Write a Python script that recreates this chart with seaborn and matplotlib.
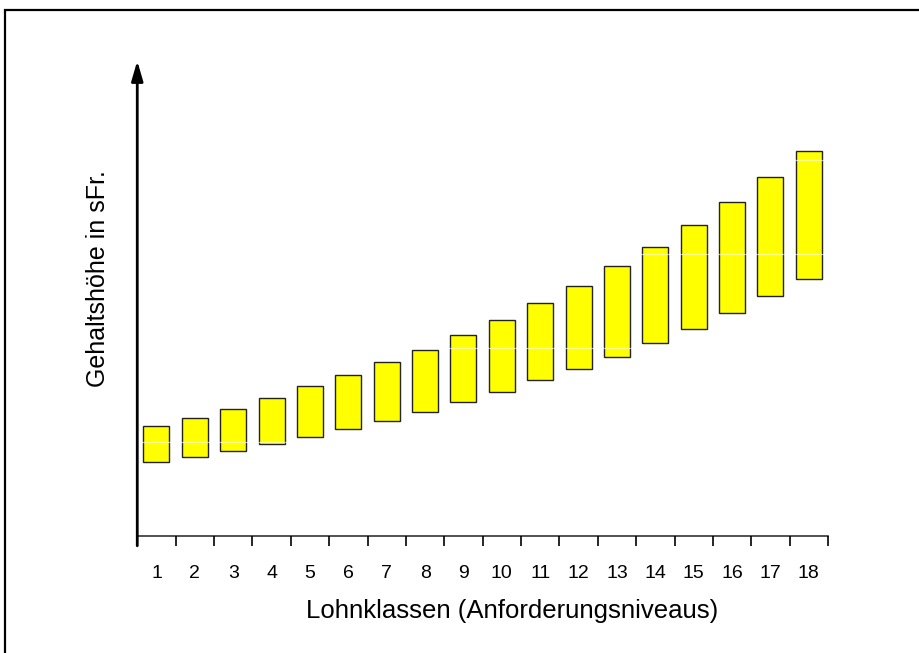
import numpy as np
import pandas as pd
import seaborn as sns
import matplotlib.pyplot as plt
from matplotlib.patches import Rectangle

# Lohnklassen und Gehaltsbänder (willkürliche Einheiten, Achse ohne Beschriftung)
klassen = [str(i) for i in range(1, 19)]
band_min = [781, 834, 901, 979, 1053, 1132, 1217, 1319, 1423, 1529,
            1657, 1774, 1901, 2047, 2202, 2370, 2547, 2731]
band_max = [1167, 1255, 1351, 1468, 1590, 1710, 1848, 1976, 2135, 2295,
            2476, 2657, 2866, 3075, 3309, 3554, 3817, 4093]
grid_levels = [1000, 2000, 3000, 4000]

df = pd.DataFrame({"Klasse": klassen, "min": band_min, "max": band_max})
df["span"] = df["max"] - df["min"]

sns.set_style("white")
plt.rcParams["font.family"] = ["Liberation Sans", "DejaVu Sans"]
plt.rcParams["text.color"] = "black"
plt.rcParams["axes.labelcolor"] = "black"
plt.rcParams["xtick.color"] = "black"

fig = plt.figure(figsize=(9.2, 6.53), dpi=100)
ax = fig.add_axes([0.1492, 0.1797, 0.9 - 0.1492, 0.911 - 0.1797])

sns.barplot(data=df, x="Klasse", y="span", order=klassen, bottom=df["min"].to_numpy(),
            color="#FFFF00", saturation=1, width=0.68, errorbar=None,
            edgecolor="#222222", linewidth=1.0, ax=ax)

ax.set_xlim(-0.5, len(klassen) - 0.5)
ax.set_ylim(0, 5082)

# feine weisse Hilfslinien
ax.set_yticks(grid_levels)
ax.set_yticklabels([])
ax.tick_params(axis="y", length=3, direction="in", color="#dddddd")
ax.yaxis.grid(True, color="white", linewidth=0.9, alpha=0.6)
ax.set_axisbelow(False)

# x-Achse: Beschriftung mittig, Striche an den Klassengrenzen
ax.set_xticks(np.arange(len(klassen)))
ax.set_xticklabels(klassen, fontsize=14)
ax.set_xticks(np.arange(len(klassen) + 1) - 0.5, minor=True)
ax.tick_params(axis="x", which="major", length=0, pad=21)
ax.tick_params(axis="x", which="minor", bottom=True, length=7, width=1.2,
               color="black", direction="out")

for s in ["top", "right", "left"]:
    ax.spines[s].set_visible(False)
ax.spines["bottom"].set_color("#333333")
ax.spines["bottom"].set_linewidth(1.2)

# y-Achse als Pfeil
ax.annotate("", xy=(0, 1.0), xytext=(0, -0.027), xycoords="axes fraction",
            arrowprops=dict(arrowstyle="-|>,head_length=1.2,head_width=0.35",
                            color="black", lw=2), annotation_clip=False)

ax.set_xlabel("Lohnklassen (Anforderungsniveaus)", fontsize=18.5)
ax.set_ylabel("Gehaltshöhe in sFr.", fontsize=18)
ax.xaxis.set_label_coords(0.543, -0.1325)
ax.yaxis.set_label_coords(-0.0395, 0.539)

# Rahmen um die Grafik
fig.patches.append(Rectangle((5 / 920, -0.1), 1.2, 0.1 + 643 / 653, transform=fig.transFigure,
                             fill=False, edgecolor="black", linewidth=1.6))

fig.savefig("out.png", dpi=100)
